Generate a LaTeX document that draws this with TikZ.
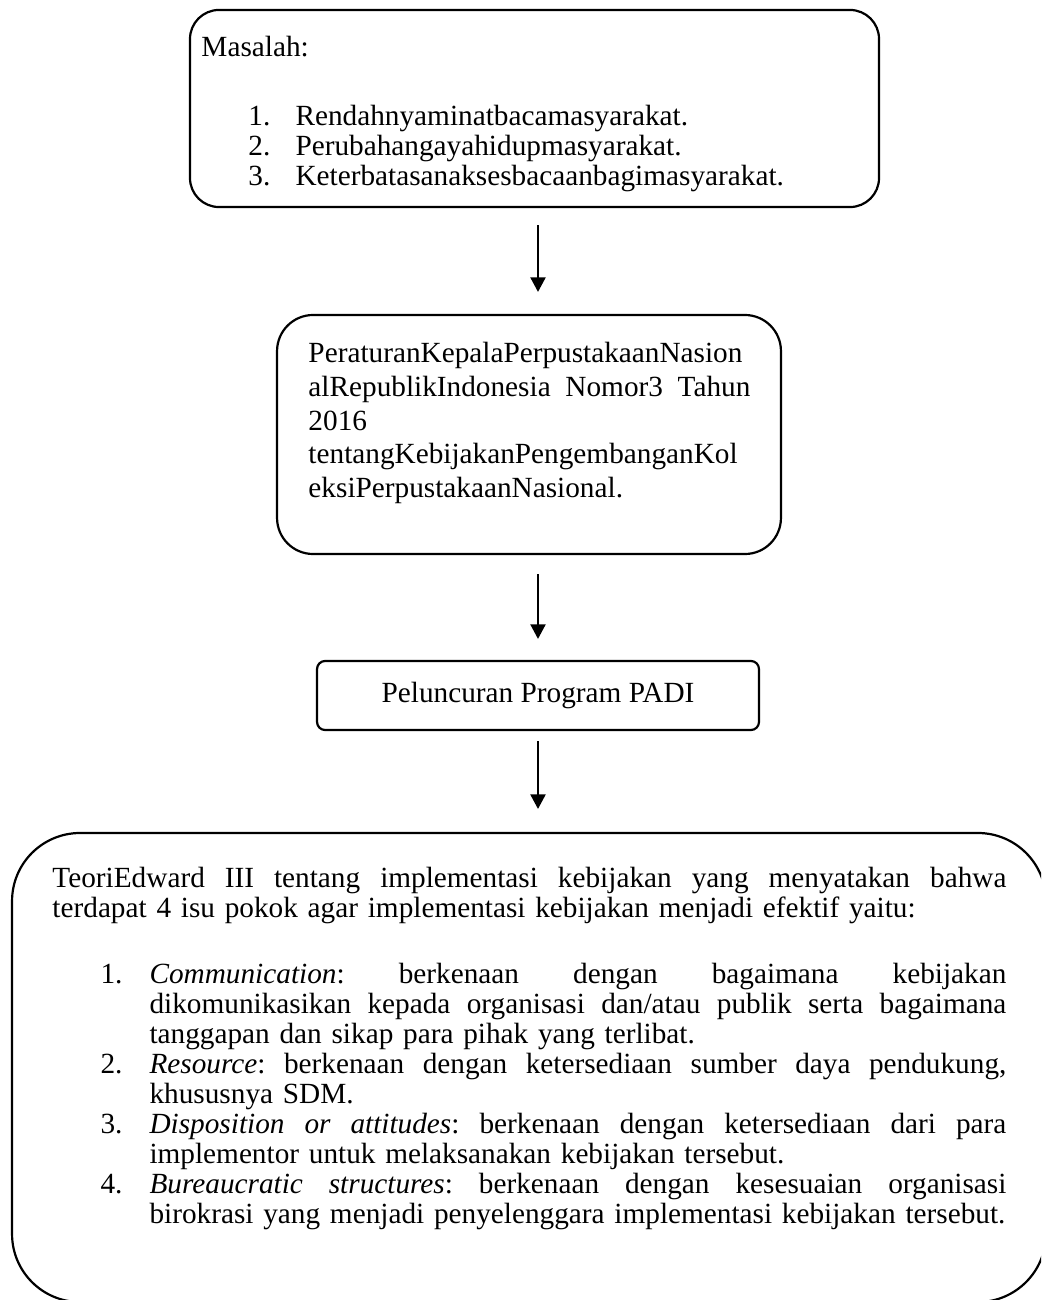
\documentclass[tikz,border=0pt]{standalone}
\usepackage{fontspec}
\setmainfont{Liberation Serif}
\usetikzlibrary{arrows.meta}
\frenchspacing

\newcommand{\spreadline}[2]{\makebox[#1][s]{\spaceskip=0pt\xspaceskip=0pt #2}}
\newcommand{\itemnum}[1]{\hspace*{19.7pt}\makebox[20.1pt][l]{#1}}
\newcommand{\contindent}{\hspace*{39.8pt}}
\newcommand{\justline}[1]{\spreadline{351.3pt}{#1}}

\tikzset{
  box/.style={draw, line width=0.9pt, inner sep=0pt},
  txt/.style={anchor=base west, inner sep=0pt, align=left, font=\fontsize{12}{12.3}\selectfont},
  arrow/.style={-{Triangle[length=6pt,width=6.2pt]}, line width=0.8pt},
}

\begin{document}
\begin{tikzpicture}[x=0.41pt, y=-0.41pt]
    \useasboundingbox (0,0) rectangle (1041,1300);
    \clip (0,0) rectangle (1041,1300);

    \node[box, rounded corners=11.9pt, minimum width=282.5pt, minimum height=80.8pt] (masalah) at (534.5,108.5) {};
    \node[box, rounded corners=14.8pt, minimum width=206.6pt, minimum height=98pt] (peraturan) at (529,434.5) {};
    \node[box, rounded corners=3.3pt, minimum width=181.2pt, minimum height=28.3pt,
          font=\fontsize{12}{12.3}\selectfont] (padi) at (538,695.5) {Peluncuran Program PADI};
    \node[box, rounded corners=27.9pt, minimum width=423.9pt, minimum height=192.3pt] (teori) at (529,1067.5) {};

    \node[txt, text width=100pt] (masalahHead) at (201,57) {Masalah:};
    \node[txt, text width=240pt] (masalahList) at (248,126) {%
      \makebox[19.3pt][l]{1.}Rendahnyaminatbacamasyarakat.\\
      \makebox[19.3pt][l]{2.}Perubahangayahidupmasyarakat.\\
      \makebox[19.3pt][l]{3.}Keterbatasanaksesbacaanbagimasyarakat.};

    \node[txt, text width=181.2pt, font=\fontsize{12}{13.8}\selectfont] (peraturanText) at (308,363) {%
      PeraturanKepalaPerpustakaanNasion\\
      \spreadline{181.2pt}{alRepublikIndonesia Nomor3 Tahun}\\
      2016\\
      tentangKebijakanPengembanganKol\\
      eksiPerpustakaanNasional.};

    \node[txt, text width=391.1pt] (teoriText) at (52,887) {%
      \spreadline{391.1pt}{TeoriEdward III tentang implementasi kebijakan yang menyatakan bahwa}\\
      terdapat 4 isu pokok agar implementasi kebijakan menjadi efektif yaitu:\\[14.8pt]
      \itemnum{1.}\justline{\textit{Communication}: berkenaan dengan bagaimana kebijakan}\\
      \contindent\justline{dikomunikasikan kepada organisasi dan/atau publik serta bagaimana}\\
      \contindent tanggapan dan sikap para pihak yang terlibat.\\
      \itemnum{2.}\justline{\textit{Resource}: berkenaan dengan ketersediaan sumber daya pendukung,}\\
      \contindent khususnya SDM.\\
      \itemnum{3.}\justline{\textit{Disposition or attitudes}: berkenaan dengan ketersediaan dari para}\\
      \contindent implementor untuk melaksanakan kebijakan tersebut.\\
      \itemnum{4.}\justline{\textit{Bureaucratic structures}: berkenaan dengan kesesuaian organisasi}\\
      \contindent birokrasi yang menjadi penyelenggara implementasi kebijakan tersebut.};

    \draw[arrow, shorten <=7pt, shorten >=9pt] (masalah.south -| padi.center) -- (peraturan.north -| padi.center);
    \draw[arrow, shorten <=7.8pt, shorten >=8.6pt] (peraturan.south -| padi.center) -- (padi.north);
    \draw[arrow, shorten <=4.1pt, shorten >=9.4pt] (padi.south) -- (teori.north -| padi.center);
\end{tikzpicture}
\end{document}
